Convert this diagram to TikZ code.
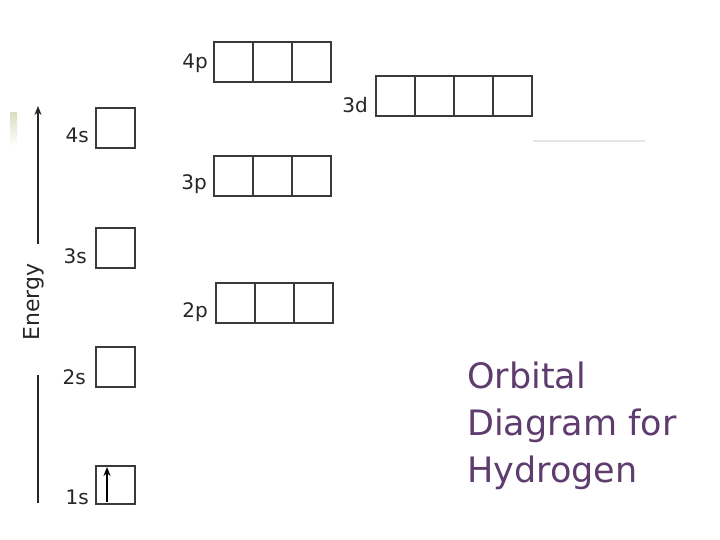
\documentclass[tikz,border=0pt]{standalone}
\usepackage{fontspec}
\setmainfont{DejaVu Sans}
\usetikzlibrary{arrows.meta}
\definecolor{titlepurple}{HTML}{5E3C6E}
\definecolor{boxline}{HTML}{3A3A3A}
\definecolor{faintgreen}{HTML}{D8E0C0}
\tikzset{
  orb/.style={draw=boxline, line width=1.7pt, minimum width=39pt, minimum height=40pt, inner sep=0pt, outer sep=0pt},
  lbl/.style={font=\fontsize{20}{21}\selectfont, text=black!85, inner sep=0pt, anchor=base east},
  axis/.style={draw=black!85, line width=1.5pt}
}
\begin{document}
\begin{tikzpicture}[x=1pt,y=-1pt]
\useasboundingbox (0,0) rectangle (720,540);
% faint artefacts
\fill[top color=faintgreen, bottom color=white] (10,113) rectangle (17,146);
\draw[black!10, line width=1.5pt] (533,141) -- (645,141);
% s orbitals
\node[orb, anchor=north west] (s4) at (96,108) {};
\node[orb, anchor=north west] (s3) at (96,228) {};
\node[orb, anchor=north west] (s2) at (96,347) {};
\node[orb, anchor=north west, minimum height=38pt] (s1) at (96,466) {};
\node[lbl] (l4s) at (89,143) {4s};
\node[lbl] (l3s) at (87,263) {3s};
\node[lbl] (l2s) at (86,384) {2s};
\node[lbl] (l1s) at (89,504) {1s};
% electron
\coordinate (e1) at (107,502);
\coordinate (e2) at (107,467);
\draw[line width=1.8pt, -{Stealth[length=9pt,width=7pt]}] (e1) -- (e2);
% p orbitals
\foreach \n/\y/\x in {4/42/214, 3/156/214, 2/283/216}{
  \node[orb, anchor=north west] (p\n a) at (\x,\y) {};
  \node[orb, anchor=west] (p\n b) at (p\n a.east) {};
  \node[orb, anchor=west] (p\n c) at (p\n b.east) {};
}
\node[lbl] (l4p) at (208,69) {4p};
\node[lbl] (l3p) at (207,190) {3p};
\node[lbl] (l2p) at (208,317) {2p};
% d orbitals
\node[orb, anchor=north west] (d3a) at (376,76) {};
\node[orb, anchor=west] (d3b) at (d3a.east) {};
\node[orb, anchor=west] (d3c) at (d3b.east) {};
\node[orb, anchor=west] (d3d) at (d3c.east) {};
\node[lbl] (l3d) at (368,113) {3d};
% energy axis
\coordinate (a0) at (38,503);
\coordinate (a1) at (38,375);
\coordinate (a2) at (38,244);
\coordinate (a3) at (38,106);
\draw[axis] (a0) -- (a1);
\draw[axis, -{Stealth[length=9pt,width=7pt]}] (a2) -- (a3);
\node[rotate=90, font=\fontsize{22}{23}\selectfont, text=black!85, inner sep=0pt] (energy) at (34,302) {Energy};
% title
\node[anchor=north west, align=left, text=titlepurple, font=\fontsize{35}{47}\selectfont, inner sep=0pt] (title) at (467,362) {Orbital\\Diagram for\\Hydrogen};
\end{tikzpicture}
\end{document}
